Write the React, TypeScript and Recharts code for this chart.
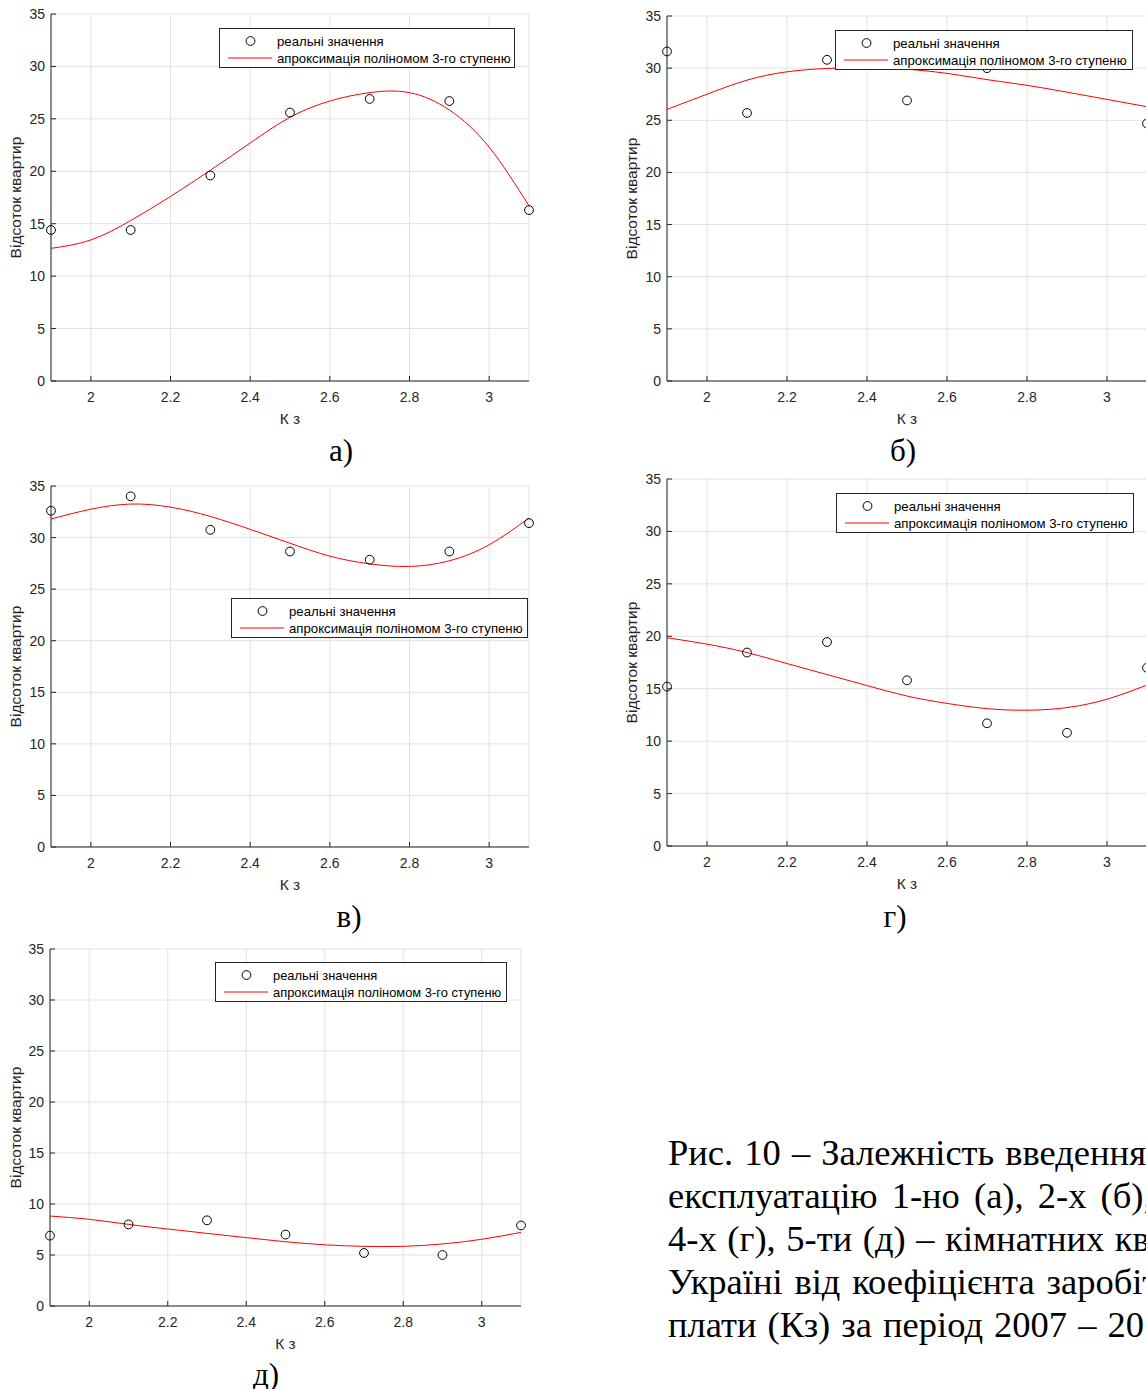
import React from 'react';
import { ComposedChart, Line, Scatter, XAxis, YAxis, CartesianGrid, Legend } from 'recharts';

// К з values of the measured points and of the drawn fit curve
const kz = [1.9, 2.1, 2.3, 2.5, 2.7, 2.9, 3.1];
const fitKz = [1.9, 2.0, 2.1, 2.2, 2.3, 2.4, 2.5, 2.6, 2.7, 2.8, 2.9, 3.0, 3.1];
const xTicks = [2, 2.2, 2.4, 2.6, 2.8, 3];
const yTicks = [0, 5, 10, 15, 20, 25, 30, 35];

// реальні значення (%)
const realA = [14.4, 14.4, 19.6, 25.6, 26.9, 26.7, 16.3];
const realB = [31.6, 25.7, 30.8, 26.9, 30.0, 32.5, 24.7];
const realC = [32.6, 34.0, 30.75, 28.65, 27.85, 28.65, 31.4];
const realD = [15.2, 18.45, 19.45, 15.8, 11.7, 10.8, 17.0];
const realE = [6.9, 8.0, 8.4, 7.0, 5.2, 5.0, 7.9];

// апроксимація поліномом 3-го ступеню
const fitA = [12.65, 13.45, 15.3, 17.6, 20.1, 22.7, 25.15, 26.7, 27.5, 27.5, 25.85, 22.3, 16.7];
const fitB = [26.05, 27.5, 28.85, 29.65, 29.97, 30.05, 29.9, 29.5, 28.9, 28.35, 27.7, 27.0, 26.3];
const fitC = [31.8, 32.75, 33.25, 32.95, 32.05, 30.8, 29.45, 28.2, 27.45, 27.2, 27.75, 29.3, 31.9];
const fitD = [19.86, 19.25, 18.45, 17.4, 16.35, 15.3, 14.3, 13.6, 13.1, 12.95, 13.2, 14.0, 15.35];
const fitE = [8.82, 8.5, 8.0, 7.55, 7.12, 6.7, 6.3, 6.0, 5.85, 5.85, 6.08, 6.54, 7.22];

const LEGEND_REAL = 'реальні значення';
const LEGEND_FIT = 'апроксимація поліномом 3-го ступеню';
const Y_LABEL = 'Відсоток квартир';
const X_LABEL = 'К з';

const captionLines = [
  'Рис. 10 – Залежність введення в',
  'експлуатацію 1-но (а), 2-х (б), 3-х (в),',
  '4-х (г), 5-ти (д) – кімнатних квартир в',
  'Україні від коефіцієнта заробітної',
  'плати (Кз) за період 2007 – 2013 рр.',
];
// the caption is justified in the source, so its lines stretch their spaces
const captionWordSpacing = [2, 5, 1.5, 2.7, 2];

const AXIS = '#262626';
const GRID = '#e2e2e2';
const FONT = '"Liberation Sans", Arial, sans-serif';
const SERIF = '"Liberation Serif", "Times New Roman", serif';

const CHART_W = 545;
const TOP_PAD = 14;
const X_AXIS_H = 45;

const BottomTick = (p: any) => (
  <g>
    <line x1={p.x} y1={p.y} x2={p.x} y2={p.y - 5} stroke={AXIS} />
    <text x={p.x} y={p.y + 16} textAnchor="middle" dominantBaseline="central" fontSize={14} fontFamily={FONT} fill={AXIS}>
      {p.payload.value}
    </text>
  </g>
);

const LeftTick = (p: any) => (
  <g>
    <line x1={p.x} y1={p.y} x2={p.x + 5} y2={p.y} stroke={AXIS} />
    <text x={p.x - 6} y={p.y} textAnchor="end" dominantBaseline="central" fontSize={14} fontFamily={FONT} fill={AXIS}>
      {p.payload.value}
    </text>
  </g>
);

const TopTick = (p: any) => <line x1={p.x} y1={p.y} x2={p.x} y2={p.y + 5} stroke={AXIS} />;
const RightTick = (p: any) => <line x1={p.x} y1={p.y} x2={p.x - 5} y2={p.y} stroke={AXIS} />;

const Ring = (p: any) => <circle cx={p.cx} cy={p.cy} r={4.4} fill="none" stroke="#000" strokeWidth={1} />;

const yLabel = (p: any) => {
  const vb = p.viewBox;
  const cx = vb.x + 15;
  const cy = vb.y + vb.height / 2;
  return (
    <text x={cx} y={cy} transform={`rotate(-90 ${cx} ${cy})`} textAnchor="middle" dominantBaseline="central" fontSize={15.5} fontFamily={FONT} fill={AXIS}>
      {Y_LABEL}
    </text>
  );
};

const xLabel = (p: any) => {
  const vb = p.viewBox;
  return (
    <text x={vb.x + vb.width / 2} y={vb.y + 37} textAnchor="middle" dominantBaseline="central" fontSize={15.5} fontFamily={FONT} fill={AXIS}>
      {X_LABEL}
    </text>
  );
};

const makeLegendBox = (fontSize: number) => () => (
  <div
    style={{
      width: '100%',
      height: '100%',
      boxSizing: 'border-box',
      border: `1px solid ${AXIS}`,
      background: '#fff',
      position: 'relative',
      fontFamily: FONT,
      fontSize,
      color: '#000',
      whiteSpace: 'nowrap',
    }}
  >
    <svg width={56} height={40} style={{ position: 'absolute', left: 0, top: 0 }}>
      <circle cx={30.5} cy={12} r={4.4} fill="none" stroke="#000" />
      <line x1={8} y1={29} x2={52} y2={29} stroke="#ff0000" />
    </svg>
    <div style={{ position: 'absolute', left: 57, top: 12, transform: 'translateY(-50%)' }}>{LEGEND_REAL}</div>
    <div style={{ position: 'absolute', left: 57, top: 29, transform: 'translateY(-50%)' }}>{LEGEND_FIT}</div>
  </div>
);

interface PanelProps {
  real: number[];
  fit: number[];
  left: number;
  plotLeft: number;
  plotRight: number;
  plotTop: number;
  plotBottom: number;
  legendX: number;
  legendY: number;
  legendW: number;
  legendFont?: number;
}

function Panel({ real, fit, left, plotLeft, plotRight, plotTop, plotBottom, legendX, legendY, legendW, legendFont = 13.2 }: PanelProps) {
  const top = plotTop - TOP_PAD;
  const height = TOP_PAD + (plotBottom - plotTop) + X_AXIS_H;
  const points = kz.map((x, i) => ({ x, y: real[i] }));
  const curve = fitKz.map((x, i) => ({ x, y: fit[i] }));

  return (
    <div style={{ position: 'absolute', left, top }}>
      <ComposedChart
        width={CHART_W}
        height={height}
        margin={{ top: TOP_PAD, right: left + CHART_W - plotRight, bottom: 0, left: 0 }}
      >
        <CartesianGrid stroke={GRID} />
        <XAxis
          dataKey="x"
          type="number"
          domain={[1.9, 3.1]}
          ticks={xTicks}
          interval={0}
          height={X_AXIS_H}
          tickSize={0}
          tickMargin={0}
          tickLine={false}
          tick={BottomTick}
          axisLine={{ stroke: AXIS }}
          label={xLabel}
        />
        <XAxis
          xAxisId="top"
          orientation="top"
          dataKey="x"
          type="number"
          domain={[1.9, 3.1]}
          ticks={xTicks}
          interval={0}
          height={0}
          tickSize={0}
          tickMargin={0}
          tickLine={false}
          tick={TopTick}
          axisLine={{ stroke: AXIS }}
        />
        <YAxis
          type="number"
          domain={[0, 35]}
          ticks={yTicks}
          interval={0}
          width={plotLeft - left}
          tickSize={0}
          tickMargin={0}
          tickLine={false}
          tick={LeftTick}
          axisLine={{ stroke: AXIS }}
          label={yLabel}
        />
        <YAxis
          yAxisId="right"
          orientation="right"
          type="number"
          domain={[0, 35]}
          ticks={yTicks}
          interval={0}
          width={0}
          tickSize={0}
          tickMargin={0}
          tickLine={false}
          tick={RightTick}
          axisLine={{ stroke: AXIS }}
        />
        <Line
          data={curve}
          dataKey="y"
          type="natural"
          stroke="#ff0000"
          strokeWidth={1}
          dot={false}
          activeDot={false}
          isAnimationActive={false}
        />
        <Scatter data={points} dataKey="y" shape={Ring} isAnimationActive={false} />
        <Legend
          layout="vertical"
          align="center"
          verticalAlign="middle"
          content={makeLegendBox(legendFont)}
          wrapperStyle={{ left: legendX - left, top: legendY - top, width: legendW, height: 40 }}
        />
      </ComposedChart>
    </div>
  );
}

const Caption = ({ x, y, text }: { x: number; y: number; text: string }) => (
  <div
    style={{
      position: 'absolute',
      left: x,
      top: y,
      transform: 'translate(-50%, -50%)',
      fontFamily: SERIF,
      fontSize: 31,
      lineHeight: 1,
      color: '#000',
    }}
  >
    {text}
  </div>
);

export default function App() {
  return (
    <div style={{ position: 'absolute', left: 0, top: 0, width: 1146, height: 1389, overflow: 'hidden', background: '#fff' }}>
      <Panel real={realA} fit={fitA} left={0} plotLeft={51} plotRight={529} plotTop={14} plotBottom={381} legendX={219} legendY={28} legendW={296} />
      <Panel real={realB} fit={fitB} left={616} plotLeft={667} plotRight={1147} plotTop={16} plotBottom={381} legendX={835} legendY={30} legendW={298} />
      <Panel real={realC} fit={fitC} left={0} plotLeft={51} plotRight={529} plotTop={486} plotBottom={847} legendX={231} legendY={598} legendW={297} />
      <Panel real={realD} fit={fitD} left={616} plotLeft={667} plotRight={1147} plotTop={479} plotBottom={846} legendX={836} legendY={493} legendW={298} />
      <Panel real={realE} fit={fitE} left={0} plotLeft={50} plotRight={521} plotTop={949} plotBottom={1306} legendX={215} legendY={962} legendW={292} legendFont={12.9} />

      <Caption x={341} y={450} text="а)" />
      <Caption x={903} y={450} text="б)" />
      <Caption x={349} y={916} text="в)" />
      <Caption x={895} y={916} text="г)" />
      <Caption x={266} y={1374} text="д)" />

      <div
        style={{
          position: 'absolute',
          left: 668,
          top: 1131,
          fontFamily: SERIF,
          fontSize: 36.5,
          lineHeight: '43px',
          color: '#000',
          whiteSpace: 'nowrap',
        }}
      >
        {captionLines.map((line, i) => (
          <div key={line} style={{ wordSpacing: captionWordSpacing[i] }}>
            {line}
          </div>
        ))}
      </div>
    </div>
  );
}
